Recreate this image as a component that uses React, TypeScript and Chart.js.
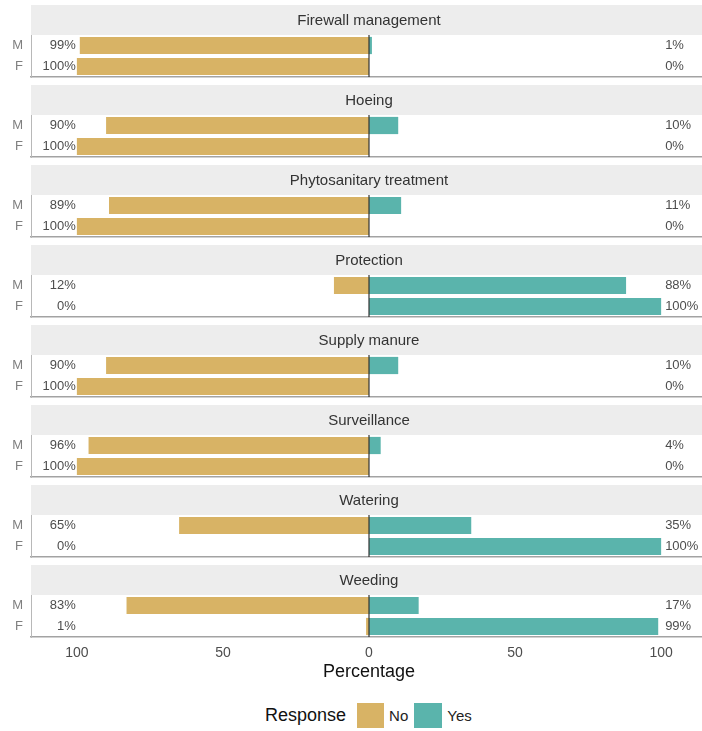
import React, { useEffect, useRef } from "react";
import { Chart, registerables } from "chart.js";

Chart.register(...registerables);

const categories = [
  "Firewall management",
  "Hoeing",
  "Phytosanitary treatment",
  "Protection",
  "Supply manure",
  "Surveillance",
  "Watering",
  "Weeding",
];
const genders = ["M", "F"];
const noMale = [99, 90, 89, 12, 90, 96, 65, 83];
const yesMale = [1, 10, 11, 88, 10, 4, 35, 17];
const noFemale = [100, 100, 100, 0, 100, 100, 0, 1];
const yesFemale = [0, 0, 0, 100, 0, 0, 100, 99];
const xTicks = [-100, -50, 0, 50, 100];
const responses = ["No", "Yes"];
const colors = ["#d8b365", "#5ab4ac"];

const FONT = '"Liberation Sans", Arial, Helvetica, sans-serif';
const XLIM = 115.7;
const CANVAS_W = 707;

const facetPlugin = {
  id: "facet",
  beforeDraw(chart: any, _args: any, opts: any) {
    const { ctx, chartArea } = chart;
    ctx.save();
    ctx.fillStyle = "#ededed";
    ctx.fillRect(chartArea.left, chartArea.top - 30, chart.width - chartArea.left, 30);
    ctx.fillStyle = "#333333";
    ctx.font = `15px ${FONT}`;
    ctx.textAlign = "center";
    ctx.textBaseline = "middle";
    ctx.fillText(opts.title, (chartArea.left + chartArea.right) / 2, chartArea.top - 14);
    ctx.restore();
  },
  afterDatasetsDraw(chart: any, _args: any, opts: any) {
    const { ctx, chartArea } = chart;
    const xs = chart.scales.x;
    const ys = chart.scales.y;
    ctx.save();
    const x0 = xs.getPixelForValue(0);
    ctx.strokeStyle = "#333333";
    ctx.lineWidth = 1.2;
    ctx.beginPath();
    ctx.moveTo(x0, chartArea.top);
    ctx.lineTo(x0, chartArea.bottom);
    ctx.stroke();
    ctx.font = `13px ${FONT}`;
    ctx.fillStyle = "#4d4d4d";
    ctx.textBaseline = "middle";
    for (let i = 0; i < genders.length; i++) {
      const y = ys.getPixelForValue(i);
      ctx.textAlign = "right";
      ctx.fillText(`${opts.no[i]}%`, xs.getPixelForValue(-100) - 1, y);
      ctx.textAlign = "left";
      ctx.fillText(`${opts.yes[i]}%`, xs.getPixelForValue(100) + 4, y);
    }
    ctx.restore();
  },
};

function Facet({ idx, last }: { idx: number; last: boolean }) {
  const ref = useRef<HTMLCanvasElement>(null);
  useEffect(() => {
    if (!ref.current) return;
    const no = [noMale[idx], noFemale[idx]];
    const yes = [yesMale[idx], yesFemale[idx]];
    const chart = new Chart(ref.current, {
      type: "bar",
      data: {
        labels: genders,
        datasets: [
          {
            label: responses[0],
            data: no.map((v) => -v),
            backgroundColor: colors[0],
            barPercentage: 0.82,
            categoryPercentage: 1,
          },
          {
            label: responses[1],
            data: yes,
            backgroundColor: colors[1],
            barPercentage: 0.82,
            categoryPercentage: 1,
          },
        ],
      },
      options: {
        indexAxis: "y",
        responsive: false,
        animation: false,
        events: [],
        layout: { padding: { top: 35, bottom: last ? 0 : 3, left: 0, right: 0 } },
        plugins: {
          legend: { display: false },
          tooltip: { enabled: false },
          facet: { title: categories[idx], no, yes },
        } as any,
        scales: {
          x: {
            type: "linear",
            stacked: true,
            min: -XLIM,
            max: XLIM,
            afterBuildTicks: (s: any) => {
              s.ticks = xTicks.map((v) => ({ value: v }));
            },
            afterFit: (s: any) => {
              s.height = last ? 53 : 0;
              s.paddingLeft = 0;
              s.paddingRight = 0;
            },
            grid: { display: false, drawTicks: false },
            border: { display: true, color: "#a3a3a3", width: 1.5 },
            ticks: {
              display: last,
              padding: 8,
              color: "#4d4d4d",
              font: { size: 14, family: FONT },
              callback: (v: any) => String(Math.abs(Number(v))),
            },
            title: {
              display: last,
              text: "Percentage",
              color: "#111111",
              font: { size: 18, family: FONT },
              padding: { top: 2, bottom: 7 },
            },
          },
          y: {
            type: "category",
            stacked: true,
            offset: true,
            afterFit: (s: any) => {
              s.width = 31;
              s.paddingTop = 0;
              s.paddingBottom = 0;
            },
            grid: { display: false, drawTicks: false },
            border: { display: true, color: "#b8b8b8", width: 1 },
            ticks: {
              padding: 8,
              color: "#7f7f7f",
              font: { size: 13, family: FONT },
            },
          },
        },
      },
      plugins: [facetPlugin],
    } as any);
    return () => chart.destroy();
  }, [idx, last]);
  return (
    <canvas
      ref={ref}
      width={CANVAS_W}
      height={last ? 130 : 80}
      style={{ display: "block", width: CANVAS_W, height: last ? 130 : 80 }}
    />
  );
}

export default function App() {
  return (
    <div
      style={{
        position: "absolute",
        left: 0,
        top: 0,
        width: 702,
        height: 731,
        overflow: "hidden",
        background: "#ffffff",
        fontFamily: FONT,
      }}
    >
      {categories.map((_, i) => (
        <Facet key={i} idx={i} last={i === categories.length - 1} />
      ))}
      <div
        style={{
          position: "absolute",
          left: 265,
          top: 703,
          height: 25,
          display: "flex",
          alignItems: "center",
          whiteSpace: "nowrap",
        }}
      >
        <span style={{ fontSize: 18, color: "#111111" }}>Response</span>
        <span
          style={{ display: "inline-block", width: 27, height: 25, background: colors[0], marginLeft: 11 }}
        />
        <span style={{ fontSize: 15, color: "#222222", marginLeft: 5 }}>{responses[0]}</span>
        <span
          style={{ display: "inline-block", width: 28, height: 25, background: colors[1], marginLeft: 6 }}
        />
        <span style={{ fontSize: 15, color: "#222222", marginLeft: 5 }}>{responses[1]}</span>
      </div>
    </div>
  );
}
